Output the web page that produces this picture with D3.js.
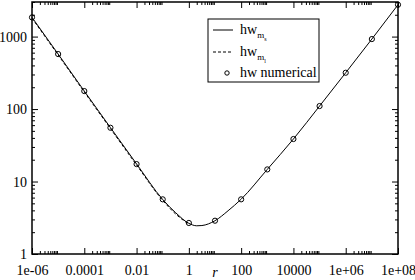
<!DOCTYPE html>
<html>
<head>
<meta charset="utf-8">
<script src="https://cdn.jsdelivr.net/npm/d3@7"></script>
<style>
  body { margin: 0; background: #fff; }
  text { font-family: "Liberation Serif", "Times New Roman", "DejaVu Serif", serif; }
</style>
</head>
<body>
<svg></svg>
<script>
// data
const rNumerical = [1e-6, 1e-5, 1e-4, 1e-3, 1e-2, 1e-1, 1, 10, 100, 1e3, 1e4, 1e5, 1e6, 1e7, 1e8]
const hwNumerical = [1840, 574, 177, 55.2, 17.4, 5.68, 2.68, 2.88, 5.68, 14.7, 38.6, 110, 317, 924, 2750]

const rMs = [1e-6, 1e-5, 1e-4, 1e-3, 1e-2, 1e-1, 0.316, 1, 2, 3.16, 10, 31.6, 100, 1e3, 1e4, 1e5, 1e6, 1e7, 1e8]
const hwMs = [1840, 574, 177, 55.5, 17.5, 5.65, 3.7, 2.65, 2.45, 2.47, 2.88, 3.95, 5.7, 14.7, 38.6, 110, 317, 924, 2750]

const rMl = [1e-6, 1e-5, 1e-4, 1e-3, 1e-2, 1e-1, 0.316, 1]
const hwMl = [1790, 558, 172, 53.8, 16.9, 5.5, 3.55, 2.58]

const xTicks = [1e-6, 1e-4, 1e-2, 1, 100, 1e4, 1e6, 1e8]
const xTickLabels = ['1e-06', '0.0001', '0.01', '1', '100', '10000', '1e+06', '1e+08']
const yTicks = [1, 10, 100, 1000]
const yTickLabels = ['1', '10', '100', '1000']

const dims = { width: 415, height: 280 }
const plot = { left: 32, right: 398, top: 2, bottom: 254 }
const serif = '"Liberation Serif", "Times New Roman", "DejaVu Serif", serif'

const svg = d3.select('svg')
  .attr('width', dims.width)
  .attr('height', dims.height)

const x = d3.scaleLog().domain([1e-6, 1e8]).range([plot.left, plot.right])
const y = d3.scaleLog().domain([1, 3000]).range([plot.bottom, plot.top])

// minor ticks at 2..9 of each major step
const xMinor = xTicks.slice(0, -1).flatMap(t => d3.range(2, 10).map(m => t * m))
const yMinor = [1, 10, 100, 1000].flatMap(t => d3.range(2, 10).map(m => t * m)).filter(v => v <= 3000)

const fmt = (ticks, labels) => d => labels[ticks.indexOf(d)]

function drawAxis (gen, scale, pos, major, labels, minor, showLabels) {
  const g = svg.append('g').attr('transform', pos)
  g.call(gen(scale).tickValues(minor).tickSize(-3).tickFormat(''))
  const m = svg.append('g').attr('transform', pos)
  m.call(gen(scale).tickValues(major).tickSize(-6).tickPadding(8)
    .tickFormat(showLabels ? fmt(major, labels) : ''))
  for (const s of [g, m]) {
    s.attr('font-family', serif)
    s.selectAll('.domain').remove()
    s.selectAll('line').attr('stroke', '#000').attr('stroke-width', 1)
  }
  m.selectAll('text').attr('font-size', 14).attr('fill', '#000')
  return m
}

drawAxis(d3.axisBottom, x, `translate(0,${plot.bottom})`, xTicks, xTickLabels, xMinor, true)
  .selectAll('text').attr('dy', '0.95em')
drawAxis(d3.axisTop, x, `translate(0,${plot.top})`, xTicks, xTickLabels, xMinor, false)
drawAxis(d3.axisLeft, y, `translate(${plot.left},0)`, yTicks, yTickLabels, yMinor, true)
  .selectAll('text').attr('dx', '3')
drawAxis(d3.axisRight, y, `translate(${plot.right},0)`, yTicks, yTickLabels, yMinor, false)

// frame
svg.append('rect')
  .attr('x', plot.left).attr('y', plot.top)
  .attr('width', plot.right - plot.left).attr('height', plot.bottom - plot.top)
  .attr('fill', 'none').attr('stroke', '#000').attr('stroke-width', 1.5)

const line = d3.line()
  .x(d => x(d[0]))
  .y(d => y(d[1]))
  .curve(d3.curveMonotoneX)

svg.append('path')
  .datum(d3.zip(rMl, hwMl))
  .attr('d', line)
  .attr('fill', 'none').attr('stroke', '#000').attr('stroke-width', 1)
  .attr('stroke-dasharray', '3,2')

svg.append('path')
  .datum(d3.zip(rMs, hwMs))
  .attr('d', line)
  .attr('fill', 'none').attr('stroke', '#000').attr('stroke-width', 1)

svg.append('g').selectAll('circle')
  .data(d3.zip(rNumerical, hwNumerical))
  .enter().append('circle')
    .attr('cx', d => x(d[0]))
    .attr('cy', d => y(d[1]))
    .attr('r', 2.6)
    .attr('fill', 'none').attr('stroke', '#000').attr('stroke-width', 1)

// x label
svg.append('text')
  .attr('x', (plot.left + plot.right) / 2).attr('y', 277)
  .attr('text-anchor', 'middle').attr('font-size', 14).attr('font-style', 'italic')
  .text('r')

// legend
const legend = svg.append('g')
legend.append('rect')
  .attr('x', 208).attr('y', 19).attr('width', 111).attr('height', 63)
  .attr('fill', '#fff').attr('stroke', '#000').attr('stroke-width', 1)

const rows = [
  { y: 30, dash: null, sub: 's' },
  { y: 52, dash: '3,2', sub: 'l' }
]
rows.forEach(row => {
  legend.append('line')
    .attr('x1', 213).attr('x2', 233).attr('y1', row.y).attr('y2', row.y)
    .attr('stroke', '#000').attr('stroke-width', 1)
    .attr('stroke-dasharray', row.dash)
  const t = legend.append('text').attr('x', 240).attr('y', row.y + 4).attr('font-size', 14)
  t.append('tspan').text('hw')
  t.append('tspan').attr('font-size', 9).attr('dy', 4).text('m')
  t.append('tspan').attr('font-size', 6).attr('dy', 3).text(row.sub)
})
legend.append('circle')
  .attr('cx', 227).attr('cy', 73).attr('r', 2.2)
  .attr('fill', 'none').attr('stroke', '#000').attr('stroke-width', 1)
legend.append('text')
  .attr('x', 240).attr('y', 77).attr('font-size', 14)
  .text('hw numerical')
</script>
</body>
</html>
